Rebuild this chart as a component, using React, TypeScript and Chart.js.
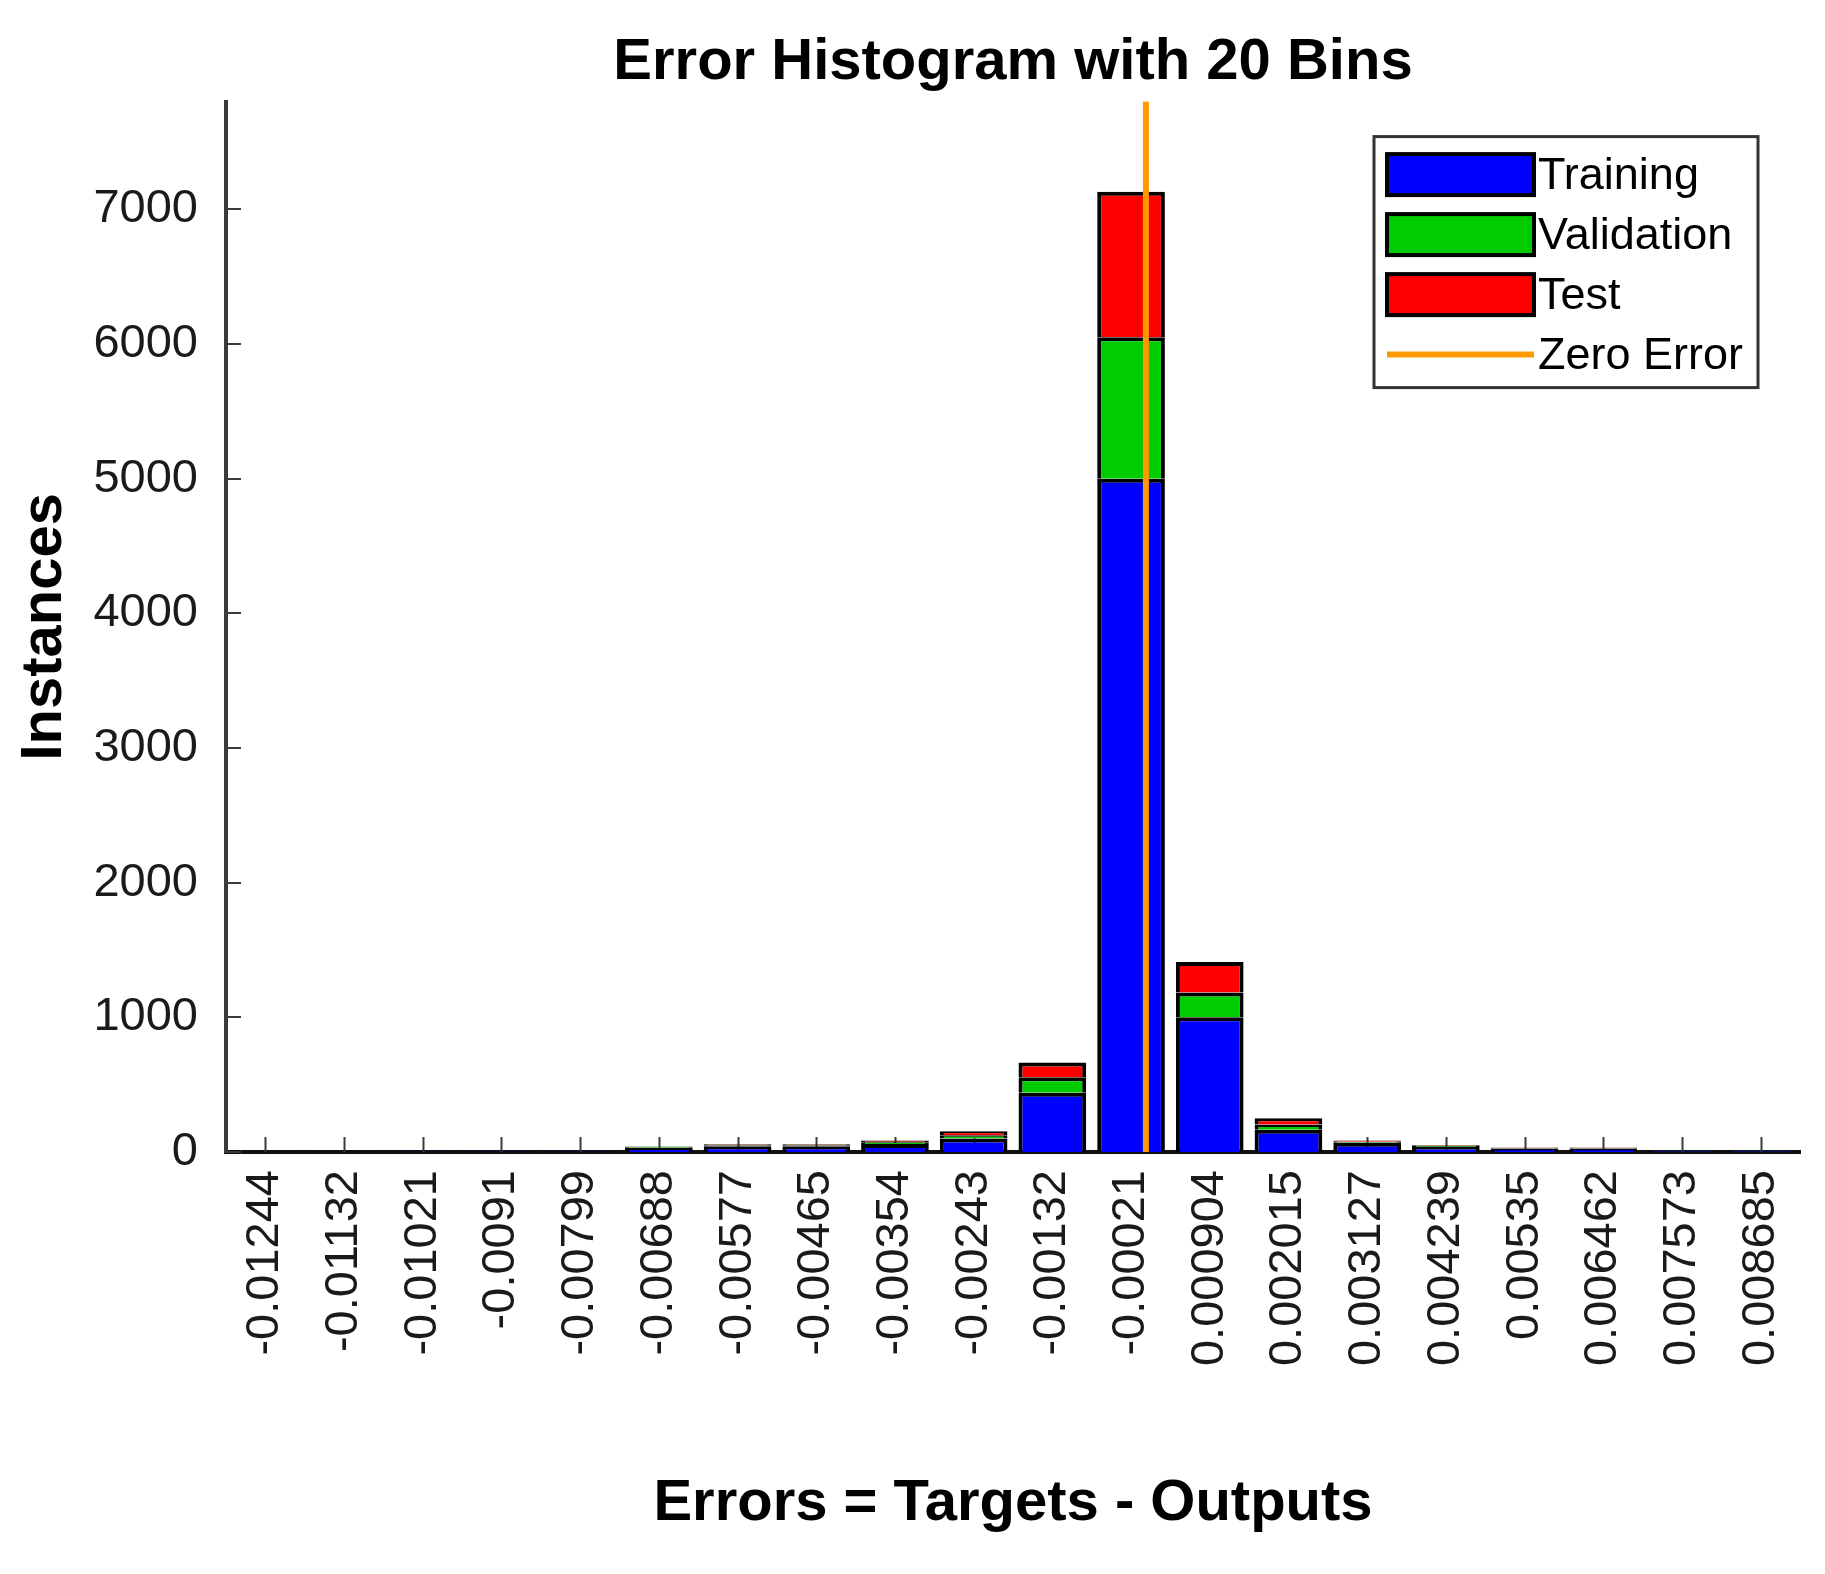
import React, { useEffect, useRef } from "react";
import { Chart, registerables } from "chart.js";

Chart.register(...registerables);

// ---------- data ----------
const binLabels: string[] = [
  "-0.01244", "-0.01132", "-0.01021", "-0.0091", "-0.00799",
  "-0.00688", "-0.00577", "-0.00465", "-0.00354", "-0.00243",
  "-0.00132", "-0.00021", "0.000904", "0.002015", "0.003127",
  "0.004239", "0.00535", "0.006462", "0.007573", "0.008685",
];
const binCenters: number[] = [
  -0.01244, -0.01132, -0.01021, -0.0091, -0.00799,
  -0.00688, -0.00577, -0.00465, -0.00354, -0.00243,
  -0.00132, -0.00021, 0.000904, 0.002015, 0.003127,
  0.004239, 0.00535, 0.006462, 0.007573, 0.008685,
];
const training: number[] = [1, 1, 2, 3, 4, 30, 42, 42, 60, 100, 440, 5000, 1000, 165, 68, 38, 26, 26, 6, 6];
const validation: number[] = [0, 0, 1, 1, 1, 5, 8, 8, 12, 25, 115, 1050, 185, 40, 9, 6, 4, 4, 1, 1];
const test: number[] = [0, 0, 0, 1, 1, 5, 8, 8, 13, 30, 110, 1080, 225, 45, 9, 6, 4, 4, 1, 1];
const zeroError: number = 0;
const yTicks: number[] = [0, 1000, 2000, 3000, 4000, 5000, 6000, 7000];
const yMax: number = 7800;

const FONT = "'Liberation Sans', Arial, Helvetica, sans-serif";
const BLUE = "#0000ff";
const GREEN = "#00cc00";
const RED = "#ff0000";
const ORANGE = "#ff9900";

const innerTicksPlugin = {
  id: "innerTicks",
  beforeDatasetsDraw(chart: any) {
    const { ctx, chartArea, scales } = chart;
    const x = scales.x;
    const y = scales.y;
    ctx.save();
    ctx.strokeStyle = "#3a3a3a";
    ctx.lineWidth = 2;
    ctx.beginPath();
    x.ticks.forEach((_: any, i: number) => {
      const px = Math.round(x.getPixelForTick(i)) + 0.5;
      ctx.moveTo(px, chartArea.bottom);
      ctx.lineTo(px, chartArea.bottom - 15);
    });
    y.ticks.forEach((_: any, i: number) => {
      const py = Math.round(y.getPixelForTick(i));
      ctx.moveTo(chartArea.left, py);
      ctx.lineTo(chartArea.left + 15, py);
    });
    ctx.stroke();
    ctx.restore();
  },
};

const boxLegendPlugin = {
  id: "boxLegend",
  afterDraw(chart: any) {
    const { ctx, chartArea } = chart;
    const w = 384;
    const h = 251;
    const x0 = chartArea.right - 42 - w;
    const y0 = chartArea.top + 35;
    ctx.save();
    ctx.fillStyle = "#ffffff";
    ctx.fillRect(x0, y0, w, h);
    ctx.strokeStyle = "#333333";
    ctx.lineWidth = 3;
    ctx.strokeRect(x0, y0, w, h);

    const bars = chart.data.datasets.filter((d: any) => d.type !== "line");
    const lines = chart.data.datasets.filter((d: any) => d.type === "line");
    const items = [...bars, ...lines];
    const swX = x0 + 13;
    const swW = 147;
    const swH = 41;
    ctx.font = `45px ${FONT}`;
    ctx.textBaseline = "middle";
    ctx.textAlign = "left";
    items.forEach((d: any, i: number) => {
      const cy = y0 + 38 + i * 60;
      if (d.type === "line") {
        ctx.strokeStyle = d.borderColor;
        ctx.lineWidth = 6;
        ctx.beginPath();
        ctx.moveTo(swX, cy);
        ctx.lineTo(swX + swW, cy);
        ctx.stroke();
      } else {
        ctx.fillStyle = d.backgroundColor;
        ctx.fillRect(swX, cy - swH / 2, swW, swH);
        ctx.strokeStyle = "#000";
        ctx.lineWidth = 4;
        ctx.strokeRect(swX, cy - swH / 2, swW, swH);
      }
      ctx.fillStyle = "#000";
      ctx.fillText(d.label, x0 + 164, cy + 2);
    });
    ctx.restore();
  },
};

export default function App() {
  const canvasRef = useRef<HTMLCanvasElement | null>(null);

  useEffect(() => {
    document.body.style.margin = "0";
    const canvas = canvasRef.current;
    if (!canvas) return;
    const binW = (binCenters[binCenters.length - 1] - binCenters[0]) / (binCenters.length - 1);
    const barDs = (label: string, data: number[], color: string) =>
      ({
        type: "bar",
        label,
        data,
        backgroundColor: color,
        borderColor: "#000",
        borderWidth: 4,
        order: 1,
        xAxisID: "x",
        yAxisID: "y",
        grouped: false,
        barPercentage: 0.86,
        categoryPercentage: 1,
      } as any);
    const chart = new Chart(canvas, {
      type: "bar",
      data: {
        labels: binLabels,
        datasets: [
          barDs("Training", training, BLUE),
          barDs("Validation", validation, GREEN),
          barDs("Test", test, RED),
          {
            type: "line",
            label: "Zero Error",
            data: [
              { x: zeroError, y: 0 },
              { x: zeroError, y: yMax },
            ],
            xAxisID: "x2",
            yAxisID: "y",
            borderColor: ORANGE,
            backgroundColor: ORANGE,
            borderWidth: 6,
            pointRadius: 0,
            order: 0,
            stack: "zero",
          } as any,
        ],
      },
      options: {
        animation: false,
        responsive: true,
        maintainAspectRatio: false,
        layout: { padding: { left: 0, right: 25, top: 0, bottom: 0 } },
        plugins: {
          legend: { display: false },
          tooltip: { enabled: false },
          title: {
            display: true,
            fullSize: false,
            text: "Error Histogram with 20 Bins",
            color: "#000",
            font: { family: FONT, size: 58, weight: "bold" },
            padding: { top: 28, bottom: 4 },
          },
        },
        scales: {
          x: {
            type: "category",
            position: "bottom",
            stacked: true,
            offset: true,
            grid: { display: false, drawTicks: false },
            border: { display: true, color: "#111", width: 4 },
            ticks: {
              maxRotation: 90,
              minRotation: 90,
              autoSkip: false,
              padding: 18,
              color: "#1a1a1a",
              font: { family: FONT, size: 47 },
            },
            title: {
              display: true,
              text: "Errors = Targets - Outputs",
              color: "#000",
              font: { family: FONT, size: 58, weight: "bold" },
              padding: { top: 0, bottom: 35 },
            },
            afterFit: (s: any) => {
              s.height = 422;
              s.paddingLeft = 0;
              s.paddingRight = 0;
            },
          },
          x2: {
            type: "linear",
            position: "bottom",
            display: true,
            offset: false,
            grace: 0,
            min: binCenters[0] - binW / 2,
            max: binCenters[binCenters.length - 1] + binW / 2,
            grid: { display: false, drawTicks: false, offset: false },
            border: { display: false },
            ticks: { display: false },
            title: { display: false },
            afterFit: (s: any) => {
              s.height = 0;
              s.paddingLeft = 0;
              s.paddingRight = 0;
            },
          },
          y: {
            type: "linear",
            stacked: true,
            min: 0,
            max: yMax,
            grid: { display: false, drawTicks: false },
            border: { display: true, color: "#3a3a3a", width: 4 },
            afterBuildTicks: (s: any) => {
              s.ticks = yTicks.map((v) => ({ value: v }));
            },
            ticks: {
              padding: 28,
              color: "#1a1a1a",
              font: { family: FONT, size: 47 },
              callback: (v: any) => String(v),
            },
            title: {
              display: true,
              text: "Instances",
              color: "#000",
              font: { family: FONT, size: 58, weight: "bold" },
              padding: { top: 10, bottom: 0 },
            },
            afterFit: (s: any) => {
              s.width = 226;
            },
          },
        },
      } as any,
      plugins: [innerTicksPlugin, boxLegendPlugin],
    });
    return () => chart.destroy();
  }, []);

  return (
    <div style={{ width: 1825, height: 1574, position: "relative", background: "#fff" }}>
      <canvas ref={canvasRef} />
    </div>
  );
}
